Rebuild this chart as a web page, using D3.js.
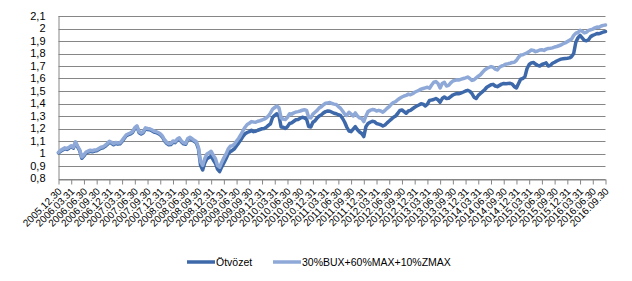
<!DOCTYPE html>
<html>
<head>
<meta charset="utf-8">
<script src="https://cdn.jsdelivr.net/npm/d3@7"></script>
<style>
  body { margin: 0; background: #fff; }
  svg text { font-family: "Liberation Sans", Arial, sans-serif; fill: #000; }
</style>
</head>
<body>
<svg id="chart" width="632" height="281"></svg>
<script>
"use strict";

// series names
var seriesNames = ["Ötvözet", "30%BUX+60%MAX+10%ZMAX"];

// values every half month, from 2005.12.30 to 2016.09.30 (index 0..258)
var otvozet = [
  1.005,1.018,1.028,1.038,1.033,1.043,1.055,1.043,1.085,1.052,1.022,0.962,
  0.981,1.004,1.012,1.018,1.014,1.020,1.022,1.032,1.042,1.046,1.057,1.072,
  1.090,1.082,1.070,1.080,1.075,1.077,1.097,1.120,1.142,1.150,1.157,1.170,
  1.200,1.214,1.167,1.157,1.167,1.197,1.192,1.190,1.182,1.172,1.167,1.160,
  1.150,1.132,1.102,1.082,1.070,1.072,1.092,1.087,1.107,1.117,1.092,1.077,
  1.074,1.112,1.122,1.110,1.097,1.085,1.038,0.905,0.868,0.925,0.958,0.968,
  0.978,0.948,0.922,0.875,0.855,0.893,0.925,0.958,0.995,1.015,1.025,1.038,
  1.062,1.085,1.110,1.138,1.158,1.168,1.175,1.185,1.175,1.178,1.186,1.192,
  1.198,1.200,1.210,1.225,1.238,1.290,1.305,1.318,1.300,1.212,1.210,1.200,
  1.215,1.240,1.245,1.258,1.270,1.272,1.282,1.290,1.285,1.275,1.215,1.212,
  1.250,1.262,1.285,1.300,1.310,1.325,1.335,1.340,1.338,1.330,1.322,1.318,
  1.310,1.305,1.280,1.250,1.210,1.180,1.175,1.195,1.215,1.190,1.172,1.160,
  1.135,1.215,1.240,1.250,1.258,1.255,1.240,1.235,1.230,1.220,1.228,1.245,
  1.260,1.275,1.290,1.300,1.320,1.345,1.348,1.335,1.322,1.340,1.345,1.358,
  1.370,1.380,1.388,1.398,1.395,1.380,1.395,1.425,1.428,1.432,1.440,1.430,
  1.410,1.440,1.452,1.440,1.442,1.455,1.468,1.475,1.480,1.478,1.485,1.492,
  1.500,1.505,1.498,1.480,1.450,1.440,1.465,1.480,1.495,1.510,1.530,1.540,
  1.550,1.553,1.540,1.535,1.545,1.555,1.560,1.558,1.560,1.562,1.555,1.535,
  1.525,1.560,1.595,1.600,1.615,1.680,1.712,1.725,1.728,1.715,1.705,1.700,
  1.712,1.718,1.725,1.700,1.705,1.722,1.730,1.740,1.748,1.755,1.758,1.760,
  1.762,1.765,1.775,1.800,1.890,1.925,1.945,1.925,1.905,1.902,1.910,1.935,
  1.945,1.952,1.960,1.958,1.965,1.972,1.975
];

var benchmark = [
  1.010,1.025,1.035,1.045,1.040,1.050,1.062,1.050,1.093,1.060,1.030,0.972,
  0.990,1.012,1.020,1.026,1.022,1.028,1.030,1.040,1.050,1.054,1.065,1.080,
  1.098,1.090,1.078,1.088,1.083,1.085,1.105,1.128,1.150,1.158,1.165,1.178,
  1.208,1.222,1.175,1.165,1.175,1.205,1.200,1.198,1.190,1.180,1.175,1.168,
  1.158,1.140,1.110,1.090,1.078,1.080,1.100,1.095,1.115,1.125,1.100,1.085,
  1.082,1.120,1.130,1.118,1.105,1.095,1.050,0.935,0.905,0.960,0.995,1.005,
  1.018,0.985,0.960,0.905,0.890,0.930,0.965,0.995,1.035,1.058,1.062,1.075,
  1.100,1.122,1.150,1.182,1.210,1.232,1.242,1.255,1.252,1.250,1.258,1.262,
  1.268,1.275,1.285,1.300,1.325,1.355,1.368,1.380,1.365,1.285,1.275,1.272,
  1.290,1.318,1.315,1.325,1.332,1.335,1.340,1.346,1.350,1.345,1.290,1.285,
  1.315,1.330,1.345,1.365,1.375,1.390,1.402,1.405,1.408,1.400,1.395,1.392,
  1.375,1.362,1.340,1.315,1.305,1.330,1.315,1.300,1.325,1.300,1.285,1.280,
  1.255,1.300,1.335,1.345,1.352,1.350,1.340,1.345,1.340,1.330,1.345,1.362,
  1.375,1.395,1.408,1.415,1.430,1.442,1.452,1.460,1.465,1.475,1.470,1.478,
  1.490,1.498,1.505,1.515,1.520,1.525,1.530,1.522,1.548,1.570,1.575,1.560,
  1.525,1.560,1.570,1.540,1.545,1.565,1.580,1.585,1.590,1.588,1.595,1.600,
  1.605,1.612,1.600,1.585,1.590,1.605,1.618,1.630,1.650,1.668,1.680,1.688,
  1.695,1.690,1.675,1.668,1.690,1.700,1.705,1.715,1.718,1.722,1.728,1.730,
  1.745,1.770,1.788,1.790,1.798,1.805,1.815,1.828,1.825,1.815,1.820,1.828,
  1.830,1.825,1.835,1.840,1.842,1.845,1.852,1.856,1.862,1.868,1.878,1.885,
  1.895,1.905,1.915,1.945,1.962,1.968,1.985,1.978,1.965,1.970,1.985,1.990,
  1.995,2.005,2.012,2.010,2.020,2.025,2.028
];

// quarterly category labels (one every 6 half-month steps)
var xLabels = [
  "2005.12.30",
  "2006.03.31","2006.06.30","2006.09.30","2006.12.31",
  "2007.03.31","2007.06.30","2007.09.30","2007.12.31",
  "2008.03.31","2008.06.30","2008.09.30","2008.12.31",
  "2009.03.31","2009.06.30","2009.09.30","2009.12.31",
  "2010.03.31","2010.06.30","2010.09.30","2010.12.31",
  "2011.03.31","2011.06.30","2011.09.30","2011.12.31",
  "2012.03.31","2012.06.30","2012.09.30","2012.12.31",
  "2013.03.31","2013.06.30","2013.09.30","2013.12.31",
  "2014.03.31","2014.06.30","2014.09.30","2014.12.31",
  "2015.03.31","2015.06.30","2015.09.30","2015.12.31",
  "2016.03.31","2016.06.30","2016.09.30"
];

var yTicks = [0.8,0.9,1.0,1.1,1.2,1.3,1.4,1.5,1.6,1.7,1.8,1.9,2.0,2.1];
var yLabels = ["0,8","0,9","1","1,1","1,2","1,3","1,4","1,5","1,6","1,7","1,8","1,9","2","2,1"];

var colors = ["#3D68A9", "#8EA9D7"];

var svg = d3.select("#chart"),
  margin = {left: 58.5, right: 26.5, top: 16, bottom: 102.5},
  width = 632 - margin.left - margin.right,
  height = 281 - margin.top - margin.bottom,
  g = svg.append("g").attr("transform", "translate(" + margin.left + "," + margin.top + ")"),
  x = d3.scaleLinear().domain([0, otvozet.length - 1]).range([0, width]),
  y = d3.scaleLinear().domain([0.8, 2.1]).range([height, 0]);

// horizontal gridlines
g.append("g")
  .selectAll("line")
  .data(yTicks)
  .enter().append("line")
  .attr("x1", 0).attr("x2", width)
  .attr("y1", function(d) { return Math.round(y(d)) + 0.5; })
  .attr("y2", function(d) { return Math.round(y(d)) + 0.5; })
  .attr("stroke", "#868686")
  .attr("stroke-width", 1);

// y labels
g.append("g")
  .selectAll("text")
  .data(yTicks)
  .enter().append("text")
  .attr("x", -13)
  .attr("y", function(d) { return y(d); })
  .attr("dy", "0.36em")
  .attr("text-anchor", "end")
  .style("font-size", "11px")
  .text(function(d, i) { return yLabels[i]; });

// y axis line
g.append("line")
  .attr("x1", 0.5).attr("x2", 0.5)
  .attr("y1", 0).attr("y2", height + 0.5)
  .attr("stroke", "#868686");

// x axis with quarterly ticks
var tickIdx = xLabels.map(function(d, i) { return i * 6; });
var xAxis = g.append("g")
  .attr("transform", "translate(0," + (Math.round(height) + 0.5) + ")")
  .call(d3.axisBottom(x).tickValues(tickIdx).tickSize(5).tickSizeOuter(0)
    .tickFormat(function(d, i) { return xLabels[i]; }));

xAxis.select(".domain").attr("stroke", "#868686");
xAxis.selectAll(".tick line").attr("stroke", "#868686");
xAxis.selectAll(".tick text")
  .attr("fill", "#000")
  .style("font-size", "10px")
  .style("font-family", "'Liberation Sans', Arial, sans-serif")
  .attr("text-anchor", "end")
  .attr("dy", "0.35em")
  .attr("transform", "translate(1,10) rotate(-45)")
  .attr("y", 0)
  .attr("x", 0);

// lines
var line = d3.line()
  .x(function(d, i) { return x(i); })
  .y(function(d) { return y(d); });

[otvozet, benchmark].forEach(function(s, k) {
  g.append("path")
    .datum(s)
    .attr("fill", "none")
    .attr("stroke", colors[k])
    .attr("stroke-width", 3.5)
    .attr("stroke-linejoin", "round")
    .attr("stroke-linecap", "round")
    .attr("d", line);
});

// legend
var legend = svg.append("g").attr("transform", "translate(0,262)");
var legendX = [187, 273];
seriesNames.forEach(function(name, k) {
  legend.append("line")
    .attr("x1", legendX[k]).attr("x2", legendX[k] + 28)
    .attr("y1", 0).attr("y2", 0)
    .attr("stroke", colors[k])
    .attr("stroke-width", 3.5);
  legend.append("text")
    .attr("x", legendX[k] + 29)
    .attr("y", 0)
    .attr("dy", "0.35em")
    .style("font-size", "10.5px")
    .text(name);
});
</script>
</body>
</html>
